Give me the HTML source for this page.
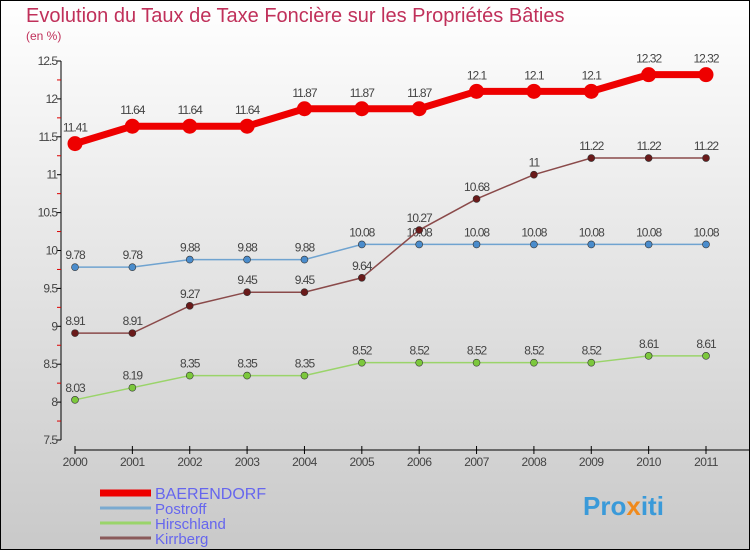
<!DOCTYPE html>
<html><head><meta charset="utf-8"><style>
body{margin:0}
#c{width:750px;height:550px;position:relative;box-sizing:border-box;border:1px solid #000;background:linear-gradient(#fff,#f4f4f4 20%,#c9c9c9);font-family:"Liberation Sans",sans-serif;overflow:hidden}
</style></head><body>
<div id="c">
<svg id="s" width="750" height="550" style="position:absolute;left:-1px;top:-1px">
<text x="26" y="22" font-size="20" fill="#c0305a">Evolution du Taux de Taxe Foncière sur les Propriétés Bâties</text>
<text x="26" y="40" font-size="12" fill="#c0305a">(en %)</text>
<g id="ax"></g>
<g id="series"></g>
<g id="leg"></g>
<text x="583" y="515" font-size="26" font-weight="bold" fill="#3a9ad9">Pro<tspan fill="#f08a1c">x</tspan>iti</text>
</svg>
</div>
<script>
const years=[2000,2001,2002,2003,2004,2005,2006,2007,2008,2009,2010,2011];
const yTicks=[7.5,8,8.5,9,9.5,10,10.5,11,11.5,12,12.5];
const baerendorf=[11.41,11.64,11.64,11.64,11.87,11.87,11.87,12.1,12.1,12.1,12.32,12.32];
const postroff=[9.78,9.78,9.88,9.88,9.88,10.08,10.08,10.08,10.08,10.08,10.08,10.08];
const hirschland=[8.03,8.19,8.35,8.35,8.35,8.52,8.52,8.52,8.52,8.52,8.61,8.61];
const kirrberg=[8.91,8.91,9.27,9.45,9.45,9.64,10.27,10.68,11,11.22,11.22,11.22];
const NS="http://www.w3.org/2000/svg";
const X=i=>75+i*(631/11), Y=v=>440-(v-7.5)*75.8;
function mk(t,a,p){const e=document.createElementNS(NS,t);for(const k in a)e.setAttribute(k,a[k]);p.appendChild(e);return e;}
const ax=document.getElementById('ax');
let e=mk('line',{x1:61,y1:61,x2:61,y2:440,stroke:'#000'},ax);


e=mk('line',{x1:75,y1:450,x2:750,y2:450,stroke:'#000'},ax);


yTicks.forEach((v,i)=>{
 mk('line',{x1:57,y1:Y(v),x2:61,y2:Y(v),stroke:'#000'},ax);
 if(i<yTicks.length-1)mk('line',{x1:57,y1:Y(v+0.25),x2:61,y2:Y(v+0.25),stroke:'#d00'},ax);
 const t=mk('text',{x:57,y:Y(v)+4,'font-size':12,fill:'#444','text-anchor':'end','letter-spacing':'-1'},ax);
 t.textContent=v;
 
 
});
years.forEach((y,i)=>{
 mk('line',{x1:X(i),y1:446,x2:X(i),y2:454,stroke:'#000'},ax);
 const t=mk('text',{x:X(i),y:466,'font-size':12,fill:'#444','text-anchor':'middle','letter-spacing':'-0.5'},ax);
 t.textContent=y;
 
 
});
const sg=document.getElementById('series');
function series(name,vals,col,dot,w,r){
 const g=mk('g',{},sg);
 
 
 const l=mk('polyline',{points:vals.map((v,i)=>X(i)+','+Y(v)).join(' '),fill:'none',stroke:col,'stroke-width':w},g);
 
 
 vals.forEach((v,i)=>{
  const c=mk('circle',{cx:X(i),cy:Y(v),r:r,fill:dot,stroke:'#333','stroke-width':r>4?0:0.6},g);
  
  
  const t=mk('text',{x:X(i),y:Y(v)-(r>4?12:8),'font-size':12,fill:'#444','text-anchor':'middle','letter-spacing':'-1'},g);
  t.textContent=v;
  
  
 });
}
series('hirschland',hirschland,'#9ad46a','#7cc83c',1.5,3.5);
series('postroff',postroff,'#6fa3d0','#4a8ccc',1.5,3.5);
series('kirrberg',kirrberg,'#8a4a4a','#6a1a1a',1.5,3.5);
series('baerendorf',baerendorf,'#ee0000','#ee0000',7,7.5);
const lg=document.getElementById('leg');
[['BAERENDORF','#ee0000',7],['Postroff','#7aaad0',3],['Hirschland','#9ad46a',3],['Kirrberg','#8a5a5a',3]].forEach((d,i)=>{
 const y=493+i*15;
 const l=mk('line',{x1:100,y1:y,x2:151,y2:y,stroke:d[1],'stroke-width':d[2]},lg);
 
 
 const t=mk('text',{x:155,y:y+(i==0?6:6),'font-size':i==0?16:15,fill:'#6666ee'},lg);
 t.textContent=d[0];
 
 
});
</script>
</body></html>
